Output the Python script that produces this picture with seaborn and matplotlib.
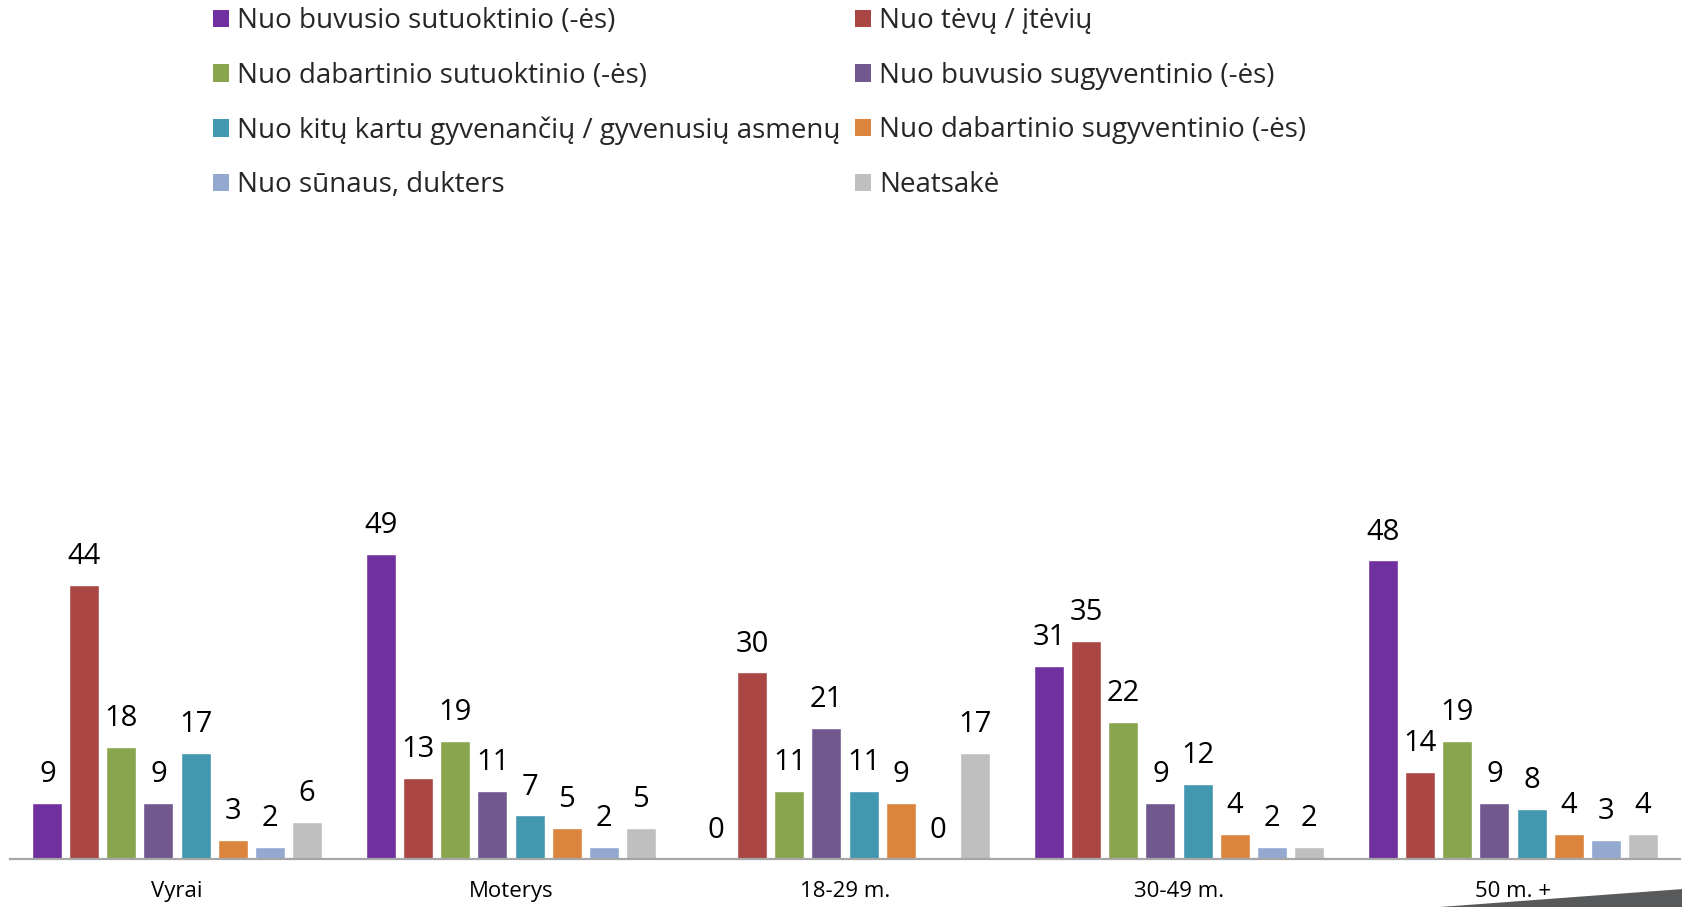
import matplotlib
matplotlib.use("Agg")
import matplotlib.pyplot as plt
import pandas as pd
import seaborn as sns
from matplotlib.patches import Patch, Polygon

groups = ["Vyrai", "Moterys", "18-29 m.", "30-49 m.", "50 m. +"]
series = [
    "Nuo buvusio sutuoktinio (-ės)",
    "Nuo tėvų / įtėvių",
    "Nuo dabartinio sutuoktinio (-ės)",
    "Nuo buvusio sugyventinio (-ės)",
    "Nuo kitų kartu gyvenančių / gyvenusių asmenų",
    "Nuo dabartinio sugyventinio (-ės)",
    "Nuo sūnaus, dukters",
    "Neatsakė",
]
buvusio_sutuoktinio = [9, 49, 0, 31, 48]
tevu = [44, 13, 30, 35, 14]
dabartinio_sutuoktinio = [18, 19, 11, 22, 19]
buvusio_sugyventinio = [9, 11, 21, 9, 9]
kitu_asmenu = [17, 7, 11, 12, 8]
dabartinio_sugyventinio = [3, 5, 9, 4, 4]
sunaus_dukters = [2, 2, 0, 2, 3]
neatsake = [6, 5, 17, 2, 4]

COLORS = ["#7030A0", "#AA4643", "#89A54E", "#71588F",
          "#4198AF", "#DB843D", "#93A9CF", "#BFBFBF"]

all_values = [buvusio_sutuoktinio, tevu, dabartinio_sutuoktinio, buvusio_sugyventinio,
              kitu_asmenu, dabartinio_sugyventinio, sunaus_dukters, neatsake]
df = pd.DataFrame(
    [(g, s, v) for s, vals in zip(series, all_values) for g, v in zip(groups, vals)],
    columns=["group", "series", "value"],
)

sns.set_theme(style="white")
plt.rcParams["font.family"] = ["Open Sans", "DejaVu Sans"]

W, H = 1683, 907
fig = plt.figure(figsize=(W / 100, H / 100), dpi=100)
ax = fig.add_axes([10 / W, (H - 859) / H, 1670 / W, 60 * 6.22 / H])

sns.barplot(
    data=df, x="group", y="value", hue="series",
    order=groups, hue_order=series, palette=COLORS, saturation=1,
    width=0.887, gap=0.19, legend=False, ax=ax,
)
for cont in ax.containers:
    ax.bar_label(cont, fmt="{:.0f}", padding=10, fontsize=21, color="black")

ax.set_xlim(-0.5, 4.5)
ax.set_ylim(0, 60)
ax.set_xlabel("")
ax.set_ylabel("")
ax.set_yticks([])
ax.tick_params(axis="x", length=0, pad=16, labelsize=16, labelcolor="black")
for side in ["left", "right", "top"]:
    ax.spines[side].set_visible(False)
ax.spines["bottom"].set_color("#A6A6A6")
ax.spines["bottom"].set_linewidth(1.6)

# legend in two columns, placed separately
handles = [Patch(facecolor=c, edgecolor="none") for c in COLORS]
legend_kw = dict(
    loc="upper left", frameon=False, fontsize=20, handlelength=0.58,
    handleheight=0.58, handletextpad=0.3, labelspacing=0.96,
    borderpad=0, borderaxespad=0,
)
fig.legend(handles[0::2], series[0::2], bbox_to_anchor=(213 / W, 1 - 7 / H), **legend_kw)
fig.legend(handles[1::2], series[1::2], bbox_to_anchor=(855 / W, 1 - 7 / H), **legend_kw)

# slide corner decoration
fig.patches.append(Polygon(
    [(1440 / W, 0), (1.0, 0), (1.0, 18 / H)], closed=True,
    transform=fig.transFigure, facecolor="#58595B", edgecolor="none", zorder=5,
))

fig.savefig("out.png", dpi=100)
